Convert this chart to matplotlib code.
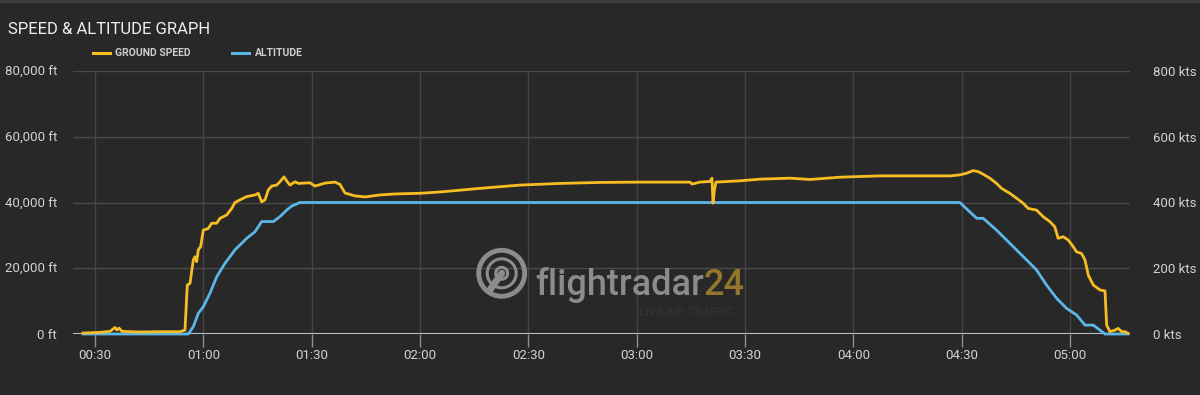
import matplotlib
matplotlib.use("Agg")
import matplotlib.pyplot as plt
from matplotlib.ticker import FixedLocator, FuncFormatter
from matplotlib.lines import Line2D
from matplotlib.patches import Circle

plt.rcParams['font.family'] = ['Roboto', 'DejaVu Sans']
NARROW = ['Roboto', 'DejaVu Sans']

# ---------------- data (time in minutes after 00:00 UTC) ----------------
speed_time = [26.68, 31.38, 34.15, 34.98, 35.54, 36.09, 36.65, 37.48, 42.46, 48.0,
              53.54, 54.92, 55.56, 56.31, 57.22, 57.69, 58.16, 58.61, 59.27, 59.99,
              61.38, 62.32, 63.70, 64.62, 66.47, 67.86, 68.77, 70.16, 72.01, 74.31,
              75.22, 76.16, 77.08, 77.99, 78.93, 80.32, 81.23, 82.34, 83.25, 84.0,
              85.39, 86.30, 89.54, 90.93, 93.70, 96.46, 97.85, 99.23, 102.0, 104.77,
              108.93, 113.08, 120.0, 125.54, 136.62, 147.70, 158.77, 169.85, 180.93, 194.78,
              195.33, 197.54, 200.31, 200.86, 201.14, 201.56, 201.97, 208.62, 214.16, 222.47,
              228.0, 236.31, 247.39, 266.78, 269.5, 271.35, 273.18, 274.56, 275.95, 277.80,
              279.66, 281.04, 283.34, 285.20, 287.02, 288.41, 290.73, 292.56, 294.42, 295.80,
              296.72, 298.10, 299.49, 300.87, 301.81, 303.20, 304.16, 305.07, 306.45, 308.31,
              309.69, 310.16, 311.08, 312.46, 313.38, 314.32, 315.24, 316.07]
speed_kts = [3, 5, 8, 15, 20, 12, 18, 8, 6, 7,
             7, 12, 149, 154, 225, 235, 220, 256, 266, 316,
             321, 337, 337, 352, 362, 382, 400, 408, 418, 423,
             428, 402, 408, 438, 450, 453, 463, 478, 463, 453,
             463, 458, 460, 450, 459, 462, 455, 429, 420, 417,
             423, 426, 428, 432, 443, 453, 458, 461, 462, 462,
             456, 462, 464, 474, 398, 440, 462, 466, 471, 474,
             470, 477, 481, 481, 484, 489, 497, 494, 486, 474,
             458, 443, 428, 413, 398, 382, 377, 357, 342, 326,
             291, 296, 286, 266, 250, 245, 225, 179, 149, 134,
             131, 27, 7, 12, 17, 7, 7, 2]

alt_time = [26.68, 55.84, 57.22, 58.61, 59.99, 61.85, 63.70, 66.0, 68.77, 72.01,
            74.31, 76.16, 79.38, 81.23, 83.09, 84.47, 86.77, 269.5, 274.13, 275.95,
            279.66, 284.26, 288.93, 290.73, 293.50, 296.27, 299.04, 301.81, 304.16, 306.45,
            309.69, 316.07]
alt_ft = [0, 0, 2200, 6300, 8300, 12400, 17400, 21500, 25600, 29100,
          31100, 34200, 34200, 35700, 37700, 38900, 40000, 40000, 35200, 35200,
          31600, 26600, 21500, 19500, 14900, 10900, 7800, 5800, 2700, 2700,
          0, 0]

x_ticks = [30, 60, 90, 120, 150, 180, 210, 240, 270, 300]
x_tick_labels = ["00:30", "01:00", "01:30", "02:00", "02:30", "03:00",
                 "03:30", "04:00", "04:30", "05:00"]
alt_ticks = [0, 20000, 40000, 60000, 80000]
speed_ticks = [0, 200, 400, 600, 800]

title = "SPEED & ALTITUDE GRAPH"
speed_label = "GROUND SPEED"
alt_label = "ALTITUDE"

# ---------------- style ----------------
BG = '#282828'
YELLOW = '#f7bd23'
BLUE = '#5cb6e8'
GRID_V = '#444444'
GRID_H = '#4a4a4a'
BASE = '#b3c2cf'
TXT = '#d2d2d2'

W, H = 1200, 395
fig = plt.figure(figsize=(W / 100, H / 100), dpi=100, facecolor=BG)
ax = fig.add_axes([73 / W, 1 - 334 / H, 1057 / W, 263 / H])
ax.set_facecolor(BG)
ax2 = ax.twinx()

ax.set_xlim(23.91, 316.62)
ax.set_ylim(0, 80000)
ax2.set_ylim(0, 800)

for a in (ax, ax2):
    for s in a.spines.values():
        s.set_visible(False)

ax.xaxis.set_major_locator(FixedLocator(x_ticks))
ax.set_xticklabels(x_tick_labels)
ax.yaxis.set_major_locator(FixedLocator(alt_ticks))
ax.yaxis.set_major_formatter(FuncFormatter(lambda v, p: f"{int(v):,} ft"))
ax2.yaxis.set_major_locator(FixedLocator(speed_ticks))
ax2.yaxis.set_major_formatter(FuncFormatter(lambda v, p: f"{int(v)} kts"))

ax.tick_params(axis='x', colors='#8f8f8f', length=9, width=1, pad=2,
               labelcolor=TXT, labelsize=9.5)
ax.tick_params(axis='y', length=0, pad=11.5, labelcolor=TXT, labelsize=9.5)
ax2.tick_params(axis='y', length=0, pad=16.5, labelcolor=TXT, labelsize=9.5)

ax.grid(axis='x', color=GRID_V, lw=1)
ax.grid(axis='y', color=GRID_H, lw=1)
ax.set_axisbelow(True)
ax.axhline(0, color=BASE, lw=1.5, zorder=1.5)

ax.plot(alt_time, alt_ft, color=BLUE, lw=2, zorder=3, clip_on=False,
        solid_joinstyle='round')
ax2.plot(speed_time, speed_kts, color=YELLOW, lw=2, zorder=3, clip_on=False,
         solid_joinstyle='round')

# ---------------- title & legend ----------------
fig.text(8 / W, 1 - 29 / H, title, family=NARROW, fontsize=12,
         color='#f0f0f0', va='center', ha='left')
ly = 1 - 53 / H
fig.add_artist(Line2D([93 / W, 110 / W], [ly, ly], color=YELLOW, lw=2.2))
fig.text(115 / W, ly, speed_label, family=NARROW, fontsize=7.5, fontweight='bold',
         color='#cfcfcf', va='center', ha='left')
fig.add_artist(Line2D([232 / W, 249 / W], [ly, ly], color=BLUE, lw=2.2))
fig.text(255 / W, ly, alt_label, family=NARROW, fontsize=7.5, fontweight='bold',
         color='#cfcfcf', va='center', ha='left')
fig.add_artist(Line2D([0, 1], [1 - 1 / H, 1 - 1 / H], color='#3d3d3d', lw=2.5))

# ---------------- watermark ----------------
WM = '#8c8c8c'
cx, cy = 501.7 / 100, (H - 273.3) / 100
t = fig.dpi_scale_trans
fig.add_artist(Circle((cx, cy), 0.23, transform=t, fill=False, ec=WM, lw=3.5))
fig.add_artist(Circle((cx, cy), 0.145, transform=t, fill=False, ec=WM, lw=2.2))
fig.add_artist(Circle((cx, cy), 0.06, transform=t, fill=False, ec=WM, lw=2.2))
fig.add_artist(Line2D([cx, cx - 0.12], [cy, cy - 0.17], transform=t,
                      color=WM, lw=5, solid_capstyle='round'))
fig.text(535 / W, 1 - 295 / H, "flightradar", family=NARROW, fontsize=26,
         fontweight='medium', color=WM, ha='left', va='baseline')
fig.text(704 / W, 1 - 295 / H, "24", family=NARROW, fontsize=26,
         fontweight='medium', color='#94762c', ha='left', va='baseline')
fig.text(687 / W, 1 - 312 / H, "LIVE AIR TRAFFIC", family=NARROW, fontsize=8.5,
         fontweight='bold', color='#303030', ha='center', va='center')

fig.savefig('out.png', dpi=100, facecolor=BG)
